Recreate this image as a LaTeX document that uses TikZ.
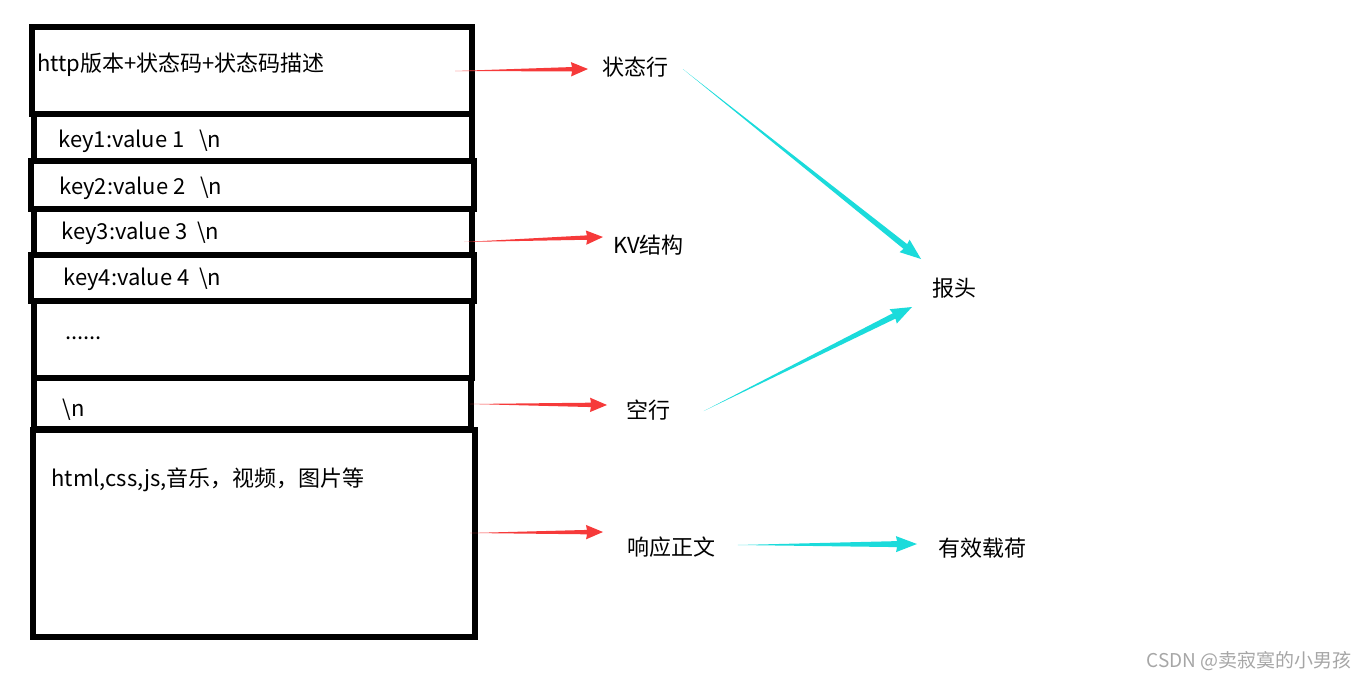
\documentclass[tikz,border=0pt]{standalone}
\usepackage{fontspec}
\setmainfont{Noto Sans CJK SC}
\usepackage{tikz}
\usetikzlibrary{calc}

\definecolor{arrred}{RGB}{246,58,58}
\definecolor{arrcyan}{RGB}{27,219,219}

\tikzset{
  rowbox/.style={line width=2.6pt},
  txt/.style={anchor=west,inner sep=0pt,font=\fontsize{11}{13}\selectfont},
  taper/.style n args={3}{to path={(\tikztostart)
    -- ($($(\tikztotarget)!#1!(\tikztostart)$)!#3!90:(\tikztotarget)$)
    -- ($($(\tikztotarget)!#1+0.5pt!(\tikztostart)$)!#2!90:(\tikztotarget)$)
    -- (\tikztotarget)
    -- ($($(\tikztotarget)!#1+0.5pt!(\tikztostart)$)!#2!-90:(\tikztotarget)$)
    -- ($($(\tikztotarget)!#1!(\tikztostart)$)!#3!-90:(\tikztotarget)$)
    -- cycle}},
  redarr/.style={fill=arrred,draw=none,taper={8pt}{3.6pt}{1.1pt}},
  cyanarr/.style={fill=arrcyan,draw=none,taper={10pt}{4pt}{1.5pt}}
}

\begin{document}
\begin{tikzpicture}[x=0.5pt,y=-0.5pt]
\useasboundingbox (0,0) rectangle (1367,680);

% the response boxes
\draw[rowbox] (32,27) rectangle (472,114);
\draw[rowbox] (34,114) rectangle (472,161);
\draw[rowbox] (31,161) rectangle (474,209);
\draw[rowbox] (34,209) rectangle (472,255);
\draw[rowbox] (31,255) rectangle (474,301);
\draw[rowbox] (34,301) rectangle (472,378);
\draw[rowbox] (34,378) rectangle (471,429);
\draw[rowbox] (33,430) rectangle (475,637);

\node[txt] (line) at (37,65) {http版本+状态码+状态码描述};
\node[txt] (k1) at (58,141) {key1:value 1\ \ \ \textbackslash n};
\node[txt] (k2) at (59,188) {key2:value 2\ \ \ \textbackslash n};
\node[txt] (k3) at (61,233) {key3:value 3\ \ \textbackslash n};
\node[txt] (k4) at (63,279) {key4:value 4\ \ \textbackslash n};
\node[txt] (dots) at (65,338) {......};
\node[txt] (nl) at (62,410) {\textbackslash n};
\node[txt] (body) at (51,480) {html,css,js,音乐，视频，图片等};

% labels on the right
\node[txt] (st) at (602,67) {状态行};
\node[txt] (kv) at (613,245) {KV结构};
\node[txt] (kh) at (626,410) {空行};
\node[txt] (zw) at (627,547) {响应正文};
\node[txt] (bt) at (932,288) {报头};
\node[txt] (yx) at (938,548) {有效载荷};

\coordinate (r1) at (455,71);
\coordinate (r2) at (464,242);
\coordinate (r3) at (470,404);
\coordinate (r4) at (470,533);

\path[redarr] (r1) to ([shift={(-7pt,-1pt)}]st.west);
\path[redarr] (r2) to ([shift={(-5pt,4pt)}]kv.west);
\path[redarr] (r3) to ([shift={(-9.5pt,2.5pt)}]kh.west);
\path[redarr] (r4) to ([shift={(-12pt,7.5pt)}]zw.west);

\path[cyanarr] ([shift={(7pt,-1pt)}]st.east) to ([shift={(-5.5pt,14.5pt)}]bt.west);
\path[cyanarr] ([shift={(16.5pt,-0.5pt)}]kh.east) to ([shift={(-10pt,-9.5pt)}]bt.west);
\path[cyanarr] ([shift={(11pt,1pt)}]zw.east) to ([shift={(-10.5pt,2pt)}]yx.west);

\node[anchor=east,inner sep=0pt,text=black!35,font=\fontsize{9.5}{11}\selectfont] (mark) at (1352,661) {CSDN @卖寂寞的小男孩};
\end{tikzpicture}
\end{document}
